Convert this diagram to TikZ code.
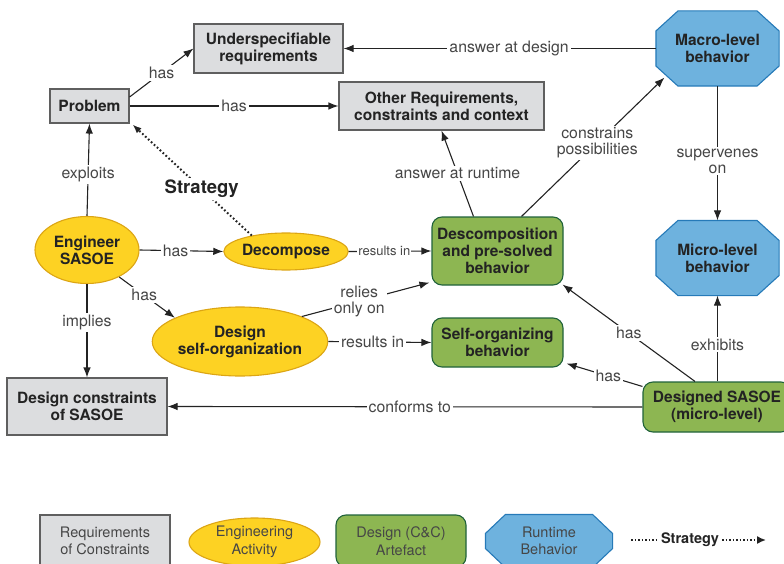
\documentclass[tikz,border=0pt]{standalone}
\usepackage{fontspec}
\setmainfont{TeX Gyre Heros}
\usetikzlibrary{shapes.geometric,arrows.meta,backgrounds}

\definecolor{reqfill}{RGB}{220,221,223}
\definecolor{reqline}{RGB}{95,95,95}
\definecolor{actfill}{RGB}{253,210,35}
\definecolor{actline}{RGB}{220,165,20}
\definecolor{artfill}{RGB}{141,182,82}
\definecolor{artline}{RGB}{32,98,58}
\definecolor{runfill}{RGB}{110,178,222}
\definecolor{runline}{RGB}{38,122,184}
\definecolor{ink}{RGB}{35,35,35}
\definecolor{lbl}{RGB}{70,70,70}

% octagon outline around a named rectangular node: name, corner cut x, corner cut y
\newcommand\octoutline[3]{%
  ([xshift=#2]#1.north west) -- ([xshift=-#2]#1.north east) --
  ([yshift=-#3]#1.north east) -- ([yshift=#3]#1.south east) --
  ([xshift=-#2]#1.south east) -- ([xshift=#2]#1.south west) --
  ([yshift=#3]#1.south west) -- ([yshift=-#3]#1.north west) -- cycle}

\tikzset{
  every node/.style={text=ink},
  base/.style={line width=1.1pt, align=center, inner sep=0pt,
    font=\bfseries\fontsize{15.5}{17}\selectfont},
  reqbox/.style={base, rectangle, fill=reqfill, draw=reqline},
  actnode/.style={base, ellipse, fill=actfill, draw=actline},
  artbox/.style={base, rectangle, rounded corners=10pt, fill=artfill, draw=artline},
  runbox/.style={base, rectangle},
  runshape/.style={fill=runfill, draw=runline, line width=1.1pt},
  link/.style={draw=ink, line width=1.1pt, -{Latex[length=10pt,width=7.5pt]}},
  strat/.style={draw=ink, line width=2pt, dash pattern=on 1.7pt off 2.3pt},
  lab/.style={fill=white, inner sep=2pt, text=lbl, align=center,
    font=\fontsize{15.8}{15.5}\selectfont},
  smalllab/.style={lab, inner sep=1pt, font=\fontsize{13}{14}\selectfont},
  legtext/.style={font=\fontsize{14.5}{17.5}\selectfont, text=lbl}
}

\begin{document}
\begin{tikzpicture}[x=1pt,y=-1pt]
\useasboundingbox (0,0) rectangle (784,564);
\clip (0,0) rectangle (784,564);

% requirements and constraints
\node[reqbox, minimum width=149pt, minimum height=49pt] (und) at (268.5,48.5) {Underspecifiable\\requirements};
\node[reqbox, minimum width=79pt, minimum height=34pt] (prob) at (89.5,106) {Problem};
\node[reqbox, minimum width=205pt, minimum height=48pt] (other) at (441.5,106) {Other Requirements,\\constraints and context};
\node[reqbox, minimum width=160pt, minimum height=57pt] (dcons) at (87,406.5) {Design constraints\\of SASOE};

% engineering activities
\node[actnode, minimum width=104pt, minimum height=67pt] (eng) at (87,250) {Engineer\\SASOE};
\node[actnode, minimum width=124pt, minimum height=37pt] (dec) at (286,251.5) {Decompose};
\node[actnode, minimum width=173pt, minimum height=69pt] (dso) at (240,341.5) {Design\\self-organization};

% design artefacts
\node[artbox, minimum width=131pt, minimum height=68pt] (descomp) at (497.5,251) {Descomposition\\and pre-solved\\behavior};
\node[artbox, minimum width=131pt, minimum height=49pt] (selforg) at (497.5,342.5) {Self-organizing\\behavior};
\node[artbox, minimum width=148pt, minimum height=50pt] (dsasoe) at (717,407) {Designed SASOE\\(micro-level)};

% runtime behaviour
\node[runbox, minimum width=122pt, minimum height=74pt] (macro) at (717.5,48.5) {Macro-level\\behavior};
\node[runbox, minimum width=122pt, minimum height=74pt] (micro) at (717.5,258) {Micro-level\\behavior};

% connectors
\draw[link] ([yshift=9pt]prob.east) -- node[lab]{has} (und.west);
\draw[link] (prob.east) -- node[lab, pos=0.5]{has} (other.west);
\draw[link] (macro.west) -- node[lab, pos=0.47]{answer at design} (und.east);
\draw[strat, -{Latex[length=9pt,width=7pt]}] (dec.155) -- node[lab, pos=0.42, font=\bfseries\fontsize{18.5}{20}\selectfont, text=ink]{Strategy} ([shift={(3pt,-1pt)}]prob.south east);
\draw[link] (eng.north) -- node[lab, pos=0.45]{exploits} (prob.south);
\draw[link] (eng.east) -- node[lab, pos=0.43]{has} (dec.west);
\draw[link] (eng.-40) -- node[lab, pos=0.45]{has} (dso.160);
\draw[link] (eng.south) -- node[lab, pos=0.41]{implies} (dcons.north);
\draw[link] (dec.east) -- node[smalllab, pos=0.43]{results in} (descomp.west);
\draw[link] (dso.22) -- node[lab, pos=0.45]{relies\\only on} ([shift={(-2pt,3pt)}]descomp.south west);
\draw[link] (dso.east) -- node[lab, pos=0.43]{results in} (selforg.west);
\draw[link] ([xshift=-24pt]descomp.north) -- node[lab, pos=0.5]{answer at runtime} (other.south);
\draw[link] ([xshift=24pt]descomp.north) -- node[lab, pos=0.53]{constrains\\possibilities} ([shift={(8.5pt,8.5pt)}]macro.south west);
\draw[link] (macro.south) -- node[lab, pos=0.56]{supervenes\\on} (micro.north);
\draw[link] (micro.south |- dsasoe.north) -- node[lab, pos=0.43]{exhibits} (micro.south);
\draw[link] ([xshift=-22pt]dsasoe.north) -- node[lab, pos=0.5]{has} ([shift={(-1pt,1pt)}]descomp.south east);
\draw[link] ([yshift=-5pt]dsasoe.north west) -- node[lab, pos=0.45]{has} ([shift={(3pt,4pt)}]selforg.south east);
\draw[link] (dsasoe.west) -- node[lab, pos=0.49]{conforms to} (dcons.east);

% key
\node[reqbox, legtext, font=\fontsize{14.5}{17.5}\selectfont, minimum width=130pt, minimum height=52pt] (kreq) at (105,541) {Requirements\\of Constraints};
\node[actnode, legtext, font=\fontsize{14.5}{17.5}\selectfont, minimum width=131pt, minimum height=48pt] (kact) at (254.5,542) {Engineering\\Activity};
\node[artbox, legtext, font=\fontsize{14.5}{17.5}\selectfont, minimum width=130pt, minimum height=52pt] (kart) at (401,541) {Design (C\&C)\\Artefact};
\node[runbox, legtext, font=\fontsize{14.5}{17.5}\selectfont, minimum width=126pt, minimum height=52pt] (krun) at (549,541) {Runtime\\Behavior};
\coordinate (ks) at (631,540);
\node[font=\bfseries\fontsize{14.5}{16}\selectfont, inner sep=3pt] (kstrat) at (690,540) {Strategy};
\coordinate (ke) at (766,540);
\draw[strat, line width=1.6pt, dash pattern=on 1.5pt off 2pt] (ks) -- (kstrat.west);
\draw[strat, line width=1.6pt, dash pattern=on 1.5pt off 2pt, -{Latex[length=9pt,width=8pt]}] (kstrat.east) -- (ke);

% octagonal runtime shapes behind their labels
\begin{scope}[on background layer]
  \path[runshape] \octoutline{macro}{22pt}{20pt};
  \path[runshape] \octoutline{micro}{22pt}{20pt};
  \path[runshape] \octoutline{krun}{20pt}{19pt};
\end{scope}
\end{tikzpicture}
\end{document}
